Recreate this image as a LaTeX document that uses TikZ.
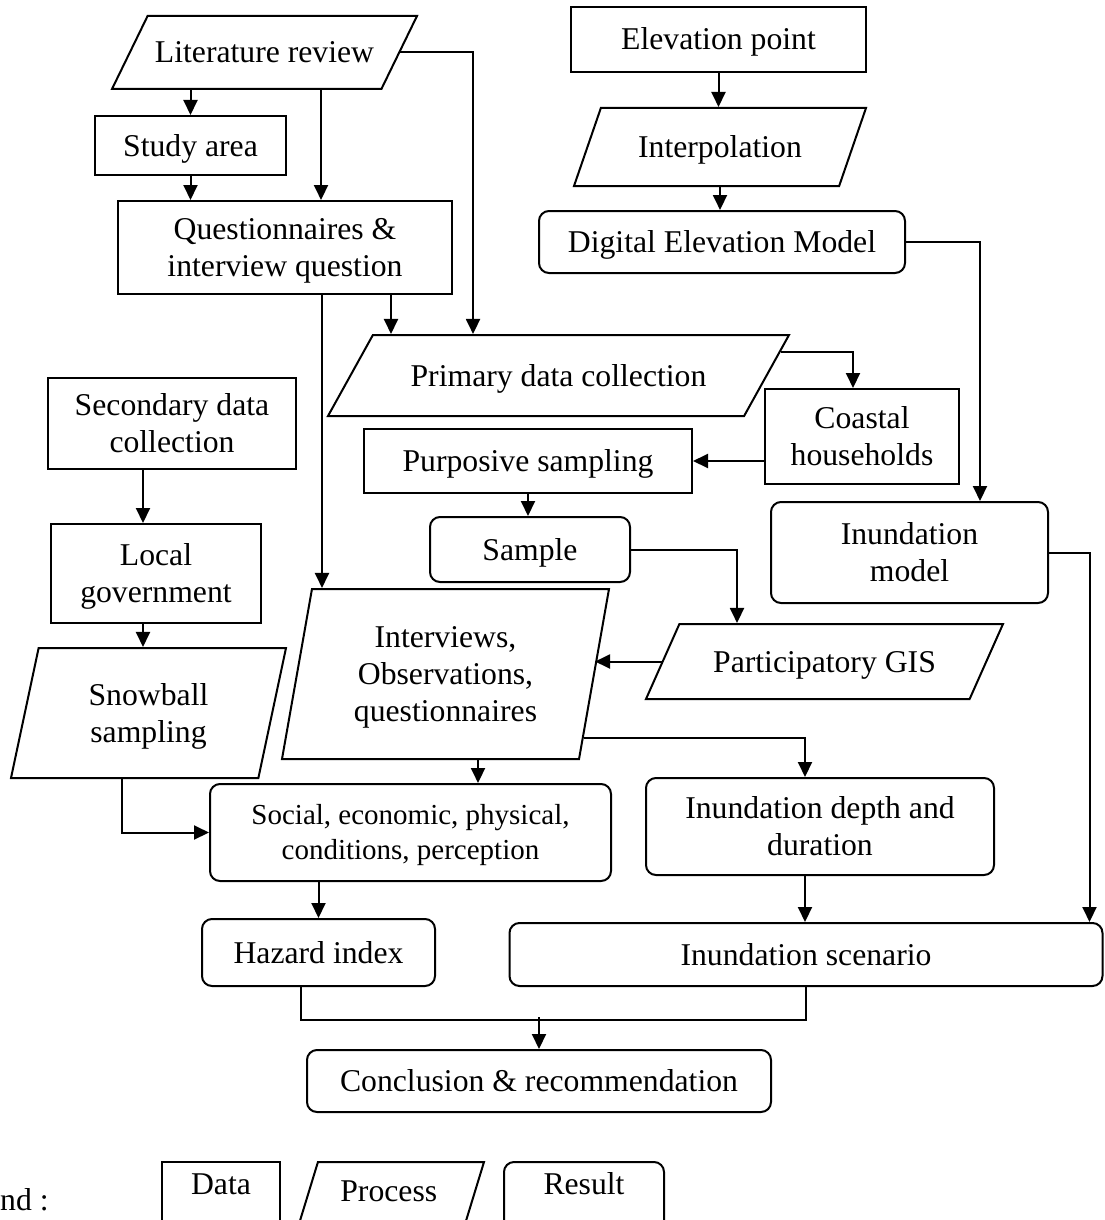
\documentclass[tikz,border=0pt]{standalone}
\usepackage{fontspec}
\setmainfont{Liberation Serif}
\usetikzlibrary{arrows.meta, positioning, shapes.geometric}

\begin{document}
\begin{tikzpicture}[x=1pt, y=-1pt,
    every node/.style={font=\fontsize{31.7}{37}\selectfont, align=center},
    data/.style={rectangle, draw, line width=2pt, inner sep=6pt},
    proc/.style={trapezium, draw, line width=2pt, inner xsep=6pt,
        trapezium stretches=true, trapezium stretches body=true,
        trapezium left angle=#1, trapezium right angle=180-#1},
    result/.style={rectangle, draw, line width=2pt, rounded corners=10pt, inner sep=6pt},
    one/.style={text height=25pt, text depth=4pt},
    two/.style={text height=62pt, text depth=4pt},
    three/.style={text height=99pt, text depth=4pt},
    legend/.style={anchor=north, minimum height=80pt, text height=21pt, text depth=37pt, inner ysep=11pt},
    arrow/.style={-{Triangle[length=15pt, width=14pt]}, line width=2pt},
    line/.style={line width=2pt}
]
\useasboundingbox (0,0) rectangle (1104,1220);

% Literature and questionnaires
\node[proc=64, one, inner ysep=22pt, minimum width=305pt] (lit) at (264.5,52.5) {Literature review};
\node[data, one, minimum width=191pt, minimum height=59pt] (study) at (190.5,145.5) {Study area};
\node[data, two, minimum width=334pt, minimum height=93pt] (quest) at (285,247.5) {Questionnaires \&\\interview question};

% Elevation branch
\node[data, one, minimum width=295pt, minimum height=65pt] (elev) at (718.5,39.5) {Elevation point};
\node[proc=71, one, inner ysep=24.5pt, minimum width=292pt] (interp) at (720,147) {Interpolation};
\node[result, one, minimum width=366pt, minimum height=62pt] (dem) at (722,242) {Digital Elevation Model};
\node[result, two, minimum width=277pt, minimum height=101pt] (model) at (909.5,552.5) {Inundation\\model};

% Primary data
\node[proc=61, one, inner ysep=26pt, minimum width=461pt] (prim) at (558.5,375.5) {Primary data collection};
\node[data, two, minimum width=194pt, minimum height=95pt] (coast) at (862,436.5) {Coastal\\households};
\node[data, one, minimum width=328pt, minimum height=64pt] (purp) at (528,461) {Purposive sampling};
\node[result, one, minimum width=200pt, minimum height=65pt] (sample) at (530,549.5) {Sample};
\node[proc=66, one, inner ysep=23pt, minimum width=357pt] (pgis) at (824.5,661.5) {Participatory GIS};
\node[proc=80, three, inner ysep=33.5pt, minimum width=327pt] (interv) at (445.5,674) {Interviews,\\Observations,\\questionnaires};

% Secondary data
\node[data, two, minimum width=248pt, minimum height=91pt] (second) at (172,423.5) {Secondary data\\collection};
\node[data, two, minimum width=210pt, minimum height=99pt] (local) at (156,573.5) {Local\\government};
\node[proc=78, two, inner ysep=32pt, minimum width=275pt] (snow) at (148.5,713) {Snowball\\sampling};

% Results
\node[result, minimum width=401pt, minimum height=97pt, font=\fontsize{29}{35}\selectfont,
    text height=58pt, text depth=4pt] (social) at (410.5,832.5) {Social, economic, physical,\\conditions, perception};
\node[result, two, minimum width=348pt, minimum height=97pt] (depth) at (820,826.5) {Inundation depth and\\duration};
\node[result, one, minimum width=233pt, minimum height=67pt] (hazard) at (318.5,952.5) {Hazard index};
\node[result, one, minimum width=593pt, minimum height=63pt] (scen) at (806,954.5) {Inundation scenario};
\node[result, one, minimum width=464pt, minimum height=62pt] (concl) at (539,1081) {Conclusion \& recommendation};

% Legend
\node[anchor=west, inner sep=0pt] (legtitle) at (0,1200) {nd :};
\node[data, legend, minimum width=118pt] (legdata) at (221,1161) {Data};
\node[proc=73, legend, minimum width=190.5pt, text height=28pt, text depth=30pt] (legproc) at (388.75,1161) {Process};
\node[result, legend, minimum width=160pt] (legres) at (584,1161) {Result};

% Arrows, left column
\draw[arrow] (study.north |- lit.south) -- (study.north);
\draw[arrow] (study.south) -- (study.south |- quest.north);
\draw[arrow] ([xshift=56.5pt]lit.south) -- ([xshift=56.5pt]lit.south |- quest.north);
\draw[arrow] (lit.east) -| ([xshift=-85.5pt]prim.north);
\draw[arrow] ([xshift=106pt]quest.south) -- ([xshift=106pt]quest.south |- prim.north);
\draw[arrow] ([xshift=37pt]quest.south) -- ([xshift=37pt]quest.south |- interv.north);

% Arrows, primary data
\draw[arrow] (prim.6) -| ([xshift=-9pt]coast.north);
\draw[arrow] (coast.west |- purp.east) -- (purp.east);
\draw[arrow] (purp.south) -- (purp.south |- sample.north);
\draw[arrow] (sample.east) -| ([xshift=-87.5pt]pgis.north);
\draw[arrow] (pgis.west) -- (pgis.west -| interv.east);
\draw[arrow] ([xshift=32.5pt]interv.south) -- ([xshift=32.5pt]interv.south |- social.north);
\draw[arrow] (interv.-25) -| ([xshift=-15pt]depth.north);

% Arrows, secondary data
\draw[arrow] ([xshift=-29pt]second.south) -- ([xshift=-29pt]second.south |- local.north);
\draw[arrow] ([xshift=-13pt]local.south) -- ([xshift=-13pt]local.south |- snow.north);
\draw[arrow] ([xshift=-26.5pt]snow.south) |- (social.west);

% Arrows, elevation
\draw[arrow] (elev.south) -- (elev.south |- interp.north);
\draw[arrow] (interp.south) -- (interp.south |- dem.north);
\draw[arrow] (dem.east) -| ([xshift=70.5pt]model.north);
\draw[arrow] (model.east) -| ([xshift=283.5pt]scen.north);

% Arrows to results
\draw[arrow] (hazard.north |- social.south) -- (hazard.north);
\draw[arrow] ([xshift=-15pt]depth.south) -- ([xshift=-15pt]depth.south |- scen.north);
\draw[line] ([xshift=-17.5pt]hazard.south) |- ([yshift=-32.5pt]scen.south) -- (scen.south);
\draw[arrow] ([yshift=32pt]concl.north) -- (concl.north);

\end{tikzpicture}
\end{document}
